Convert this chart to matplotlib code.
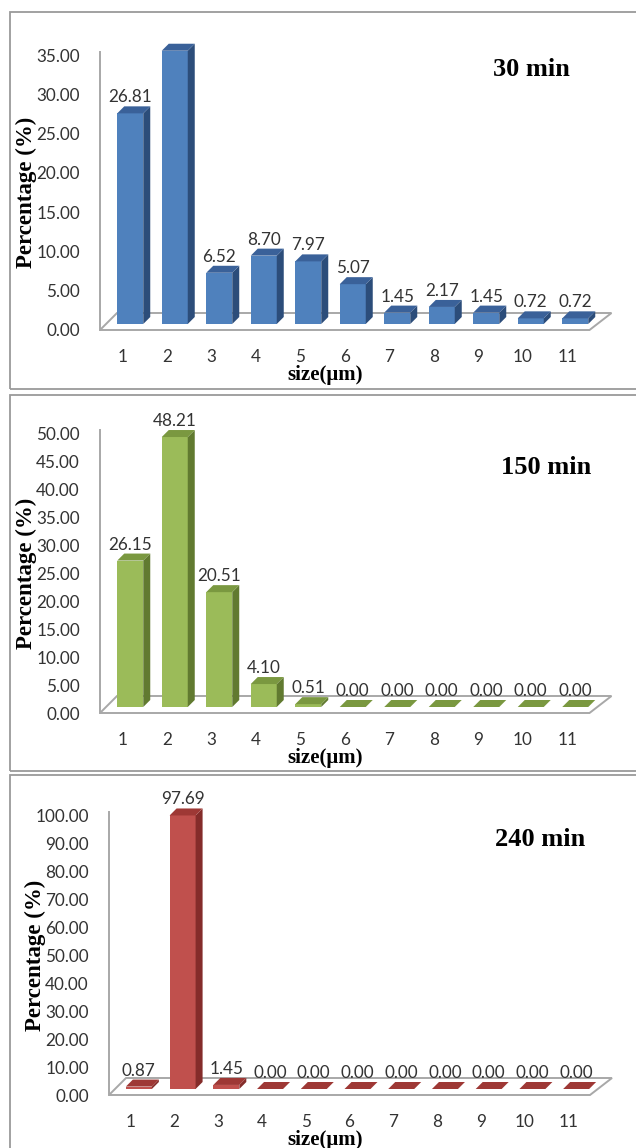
import numpy as np
import matplotlib.pyplot as plt
from matplotlib.patches import Polygon, Rectangle

W, H = 636, 1148

sizes = list(range(1, 12))
pct_30 = [26.81, 34.78, 6.52, 8.70, 7.97, 5.07, 1.45, 2.17, 1.45, 0.72, 0.72]
pct_150 = [26.15, 48.21, 20.51, 4.10, 0.51, 0.00, 0.00, 0.00, 0.00, 0.00, 0.00]
pct_240 = [0.87, 97.69, 1.45, 0.00, 0.00, 0.00, 0.00, 0.00, 0.00, 0.00, 0.00]
series = [pct_30, pct_150, pct_240]
titles = ['30 min', '150 min', '240 min']
y_max = [35, 50, 100]
y_step = [5, 5, 10]

# front / side / top face colours
colors = [('#4F81BD', '#2C4D7A', '#3A6199'),
          ('#9BBB59', '#617A30', '#7A9840'),
          ('#C0504D', '#842C2A', '#9E3835')]

# pixel layout: border top, border bottom, axis left, axis right, y of 0, y of max, title x, title y
layout = [(12, 389, 100, 589.5, 330, 55, 531, 69),
          (395, 771, 100, 589.5, 713, 433, 546, 467),
          (775, 1160, 109, 590, 1095, 815, 540, 839)]

tick_font = dict(family='Lato', size=12.3, color='#333333')
serif_bold = dict(family='Liberation Serif', weight='bold', color='black')

fig = plt.figure(figsize=(W / 100, H / 100), dpi=100)

for k in range(3):
    top, bot, xl, xr, y0, yt, tx, ty = layout[k]
    vals = series[k]
    ymax = y_max[k]
    c_front, c_side, c_top = colors[k]

    # panel frame
    fig.add_artist(Rectangle((10 / W, 1 - bot / H), 640 / W, (bot - top) / H,
                             transform=fig.transFigure, fill=False,
                             ec='#9A9A9A', lw=1.3))

    ax = fig.add_axes([xl / W, 1 - y0 / H, (xr - xl) / W, (y0 - yt) / H])
    ax.set_xlim(0.5, 11.5)
    ax.set_ylim(0, ymax)
    for sp in ax.spines.values():
        sp.set_visible(False)
    ax.patch.set_alpha(0)

    ux = 11 / (xr - xl)      # data units per pixel
    uy = ymax / (y0 - yt)

    # floor and vertical axis
    floor = Polygon([(0.5, 0), (11.5, 0), (11.5 + 22 * ux, 17 * uy), (0.5 + 17 * ux, 17 * uy)],
                    closed=True, fill=False, ec='#A8A8A8', lw=1.4, clip_on=False, zorder=1)
    ax.add_patch(floor)
    ax.plot([0.5, 0.5], [0, ymax + 3 * uy], color='#A8A8A8', lw=1.4, clip_on=False, zorder=1)

    # 3D columns
    bw = 26 * ux
    dx, dy = 7 * ux, 7 * uy
    b0 = 6 * uy
    xs = np.array(sizes) + 8 * ux
    ax.bar(xs, vals, width=bw, bottom=b0, color=c_front, clip_on=False, zorder=3, lw=0)
    for x, v in zip(xs, vals):
        x0 = x - bw / 2
        side = [(x0 + bw, b0), (x0 + bw + dx, b0 + dy), (x0 + bw + dx, b0 + v + dy), (x0 + bw, b0 + v)]
        topf = [(x0, b0 + v), (x0 + bw, b0 + v), (x0 + bw + dx, b0 + v + dy), (x0 + dx, b0 + v + dy)]
        ax.add_patch(Polygon(side, closed=True, fc=c_side, lw=0, clip_on=False, zorder=3))
        ax.add_patch(Polygon(topf, closed=True, fc=c_top, lw=0, clip_on=False, zorder=3))
        ax.annotate(f'{v:.2f}', (x, b0 + v), xytext=(0, 16), textcoords='offset pixels',
                    ha='center', va='center', zorder=5, **tick_font)

    yt_vals = np.arange(0, ymax + 0.1, y_step[k])
    ax.set_yticks(yt_vals)
    ax.set_yticklabels([f'{t:.2f}' for t in yt_vals], **tick_font)
    ax.set_xticks(sizes)
    ax.set_xticklabels([str(s) for s in sizes], **tick_font)
    ax.tick_params(axis='y', length=0, pad=14.5)
    ax.tick_params(axis='x', length=0, pad=14)

    fig.text(tx / W, 1 - ty / H, titles[k], ha='center', va='center', size=19, **serif_bold)
    fig.text((xl - 74) / W, 1 - (y0 + yt) / 2 / H, 'Percentage (%)', rotation=90,
             ha='center', va='center', size=16.5, **serif_bold)
    fig.text(325 / W, 1 - (y0 + 45) / H, 'size(\u03bcm)', ha='center', va='center',
             size=15, **serif_bold)

fig.savefig('out.png', dpi=100)
